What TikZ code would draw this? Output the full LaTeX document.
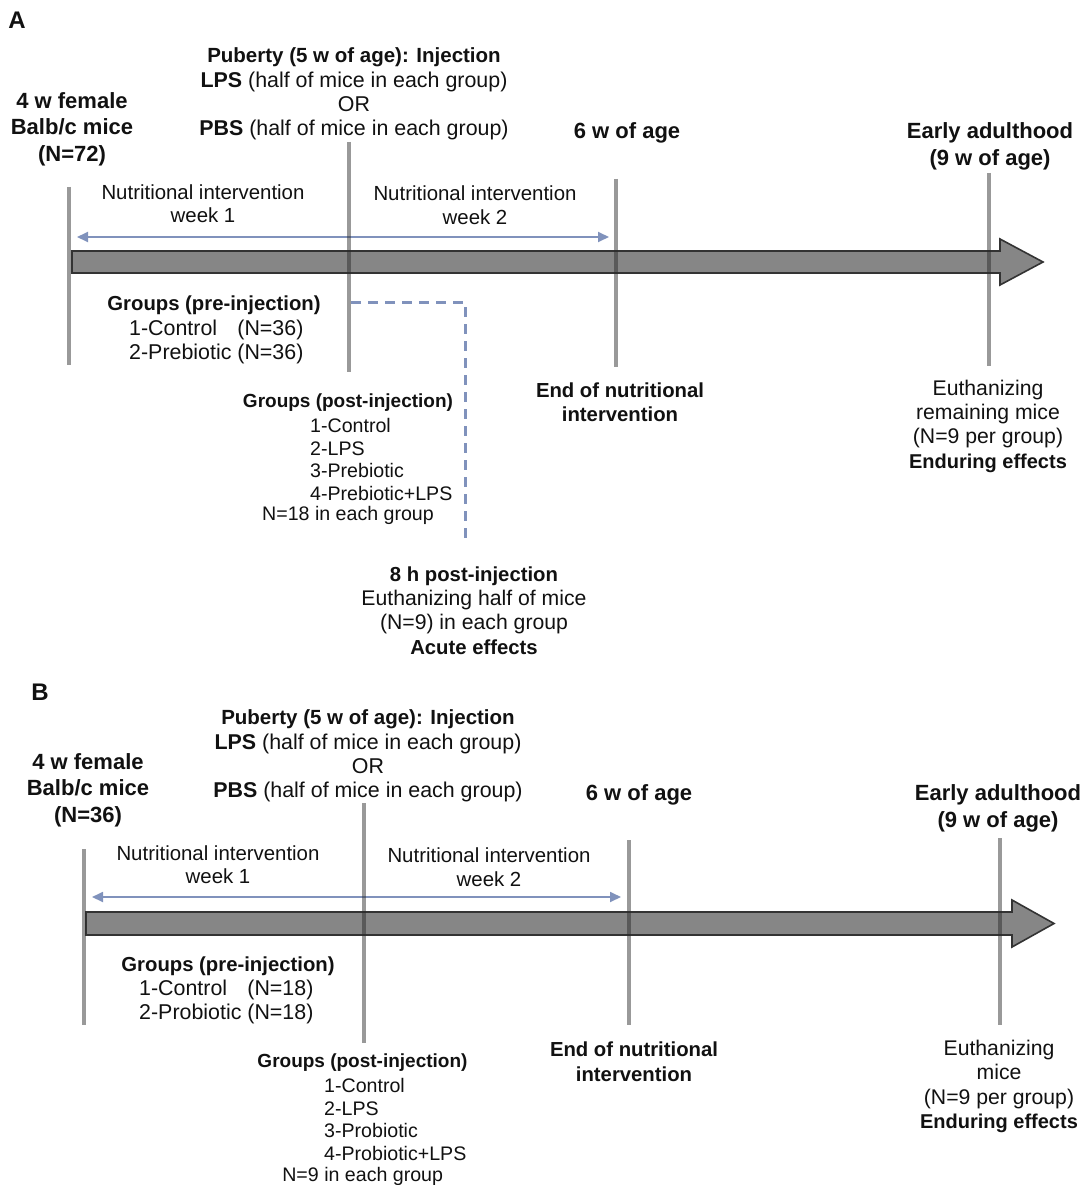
\documentclass[tikz,border=0pt]{standalone}
\usepackage{fontspec}
\setmainfont{Liberation Sans}
\usetikzlibrary{arrows.meta}
\definecolor{barfill}{RGB}{134,134,134}
\definecolor{baredge}{RGB}{51,51,51}
\definecolor{tickcol}{RGB}{42,42,42}
\definecolor{blu}{RGB}{128,146,188}
\definecolor{ink}{RGB}{17,17,17}
\newcommand\fsz[2]{\fontsize{#1}{#2}\selectfont}
\tikzset{
  lbl/.style={inner sep=0pt, align=center, text=ink, yshift=-2.5pt},
  bighdr/.style={lbl, font=\bfseries\fsz{22}{26.5}},
  boldtxt/.style={lbl, font=\bfseries\fsz{20.3}{24.5}},
  regtxt/.style={lbl, font=\fsz{21.2}{24.3}},
  nuttxt/.style={lbl, font=\fsz{20.4}{23.5}},
  posttitle/.style={lbl, font=\bfseries\fsz{19}{23}},
  posttxt/.style={lbl, font=\fsz{19.6}{22.6}},
  panellbl/.style={lbl, font=\bfseries\fsz{24}{28}},
  tickline/.style={draw=tickcol, draw opacity=0.48, line width=4pt},
  bar/.style={fill=barfill, draw=baredge, line width=1.6pt, line join=miter},
  span/.style={draw=blu, line width=1.8pt, {Triangle[length=11pt,width=10pt]}-{Triangle[length=11pt,width=10pt]}},
  dashline/.style={draw=blu, line width=3pt, dash pattern=on 10pt off 7pt},
}
\begin{document}
\begin{tikzpicture}[x=1pt,y=-1pt]
\useasboundingbox (0,0) rectangle (1082,1185);
\fill[white] (0,0) rectangle (1082,1185);

% ================= Panel A =================
\node[panellbl] (labA) at (17,18) {A};
% timeline bar
\draw[bar] (72,251) -- (1000,251) -- (1000,239) -- (1043,262) -- (1000,285) -- (1000,273) -- (72,273) -- cycle;
% span arrow
\coordinate (spA0) at (77,237);
\coordinate (spA1) at (609,237);
\draw[span] (spA0) -- (spA1);
% dashed connector
\coordinate (dA0) at (351,302);
\coordinate (dA1) at (465,302);
\coordinate (dA2) at (465,540);
\draw[dashline] (dA0) -- (dA1) -- (dA2);
% ticks
\coordinate (tA1t) at (69,187);  \coordinate (tA1b) at (69,365);
\coordinate (tA2t) at (349,142); \coordinate (tA2b) at (349,372);
\coordinate (tA3t) at (616,179); \coordinate (tA3b) at (616,367);
\coordinate (tA4t) at (989,173); \coordinate (tA4b) at (989,366);
\draw[tickline] (tA1t) -- (tA1b);
\draw[tickline] (tA2t) -- (tA2b);
\draw[tickline] (tA3t) -- (tA3b);
\draw[tickline] (tA4t) -- (tA4b);
% texts
\node[bighdr] (startA) at (72,126.5) {4 w female\\Balb/c mice\\(N=72)};
\node[regtxt, font=\fsz{21.4}{24.3}] (pubA) at (354,91.5) {{\bfseries\fsz{20.5}{24.3}Puberty (5 w of age): Injection}\\\textbf{LPS} (half of mice in each group)\\OR\\\textbf{PBS} (half of mice in each group)};
\node[nuttxt] (w1A) at (203,201) {Nutritional intervention\\week 1};
\node[nuttxt] (w2A) at (475,202.5) {Nutritional intervention\\week 2};
\node[bighdr] (sixA) at (627,130) {6 w of age};
\node[bighdr, font=\bfseries\fsz{22}{27}] (nineA) at (990,143.5) {Early adulthood\\(9 w of age)};
\node[boldtxt] (preA) at (214,303) {Groups (pre-injection)};
\node[lbl, anchor=west, font=\fsz{21.4}{24}] (prelistA) at (129,340) {\begin{tabular}{@{}l@{ }l@{}}1-Control & (N=36)\\2-Prebiotic & (N=36)\end{tabular}};
\node[posttitle] (postA) at (348,400) {Groups (post-injection)};
\node[posttxt, align=left, anchor=west] (postlistA) at (310,456.8) {1-Control\\2-LPS\\3-Prebiotic\\4-Prebiotic+LPS};
\node[posttxt] (postnA) at (348,513) {N=18 in each group};
\node[boldtxt] (endA) at (620,399.5) {End of nutritional\\intervention};
\node[regtxt] (euthA) at (988,423.5) {Euthanizing\\remaining mice\\(N=9 per group)\\{\bfseries\fsz{20}{24.3}Enduring effects}};
\node[regtxt] (acuteA) at (474,608) {{\bfseries\fsz{20.3}{24.3}8 h post-injection}\\Euthanizing half of mice\\(N=9) in each group\\{\bfseries\fsz{20.3}{24.3}Acute effects}};

% ================= Panel B =================
\node[panellbl] (labB) at (40,690) {B};
\draw[bar] (86,912) -- (1012,912) -- (1012,900) -- (1054,923.5) -- (1012,947) -- (1012,935) -- (86,935) -- cycle;
\coordinate (spB0) at (92,897);
\coordinate (spB1) at (621,897);
\draw[span] (spB0) -- (spB1);
\coordinate (tB1t) at (84,849);   \coordinate (tB1b) at (84,1025);
\coordinate (tB2t) at (364,803);  \coordinate (tB2b) at (364,1043);
\coordinate (tB3t) at (629,840);  \coordinate (tB3b) at (629,1025);
\coordinate (tB4t) at (1000,838); \coordinate (tB4b) at (1000,1025);
\draw[tickline] (tB1t) -- (tB1b);
\draw[tickline] (tB2t) -- (tB2b);
\draw[tickline] (tB3t) -- (tB3b);
\draw[tickline] (tB4t) -- (tB4b);
\node[bighdr] (startB) at (88,787.5) {4 w female\\Balb/c mice\\(N=36)};
\node[regtxt, font=\fsz{21.4}{24.3}] (pubB) at (368,753.5) {{\bfseries\fsz{20.5}{24.3}Puberty (5 w of age): Injection}\\\textbf{LPS} (half of mice in each group)\\OR\\\textbf{PBS} (half of mice in each group)};
\node[nuttxt] (w1B) at (218,862) {Nutritional intervention\\week 1};
\node[nuttxt] (w2B) at (489,864.5) {Nutritional intervention\\week 2};
\node[bighdr] (sixB) at (639,792) {6 w of age};
\node[bighdr, font=\bfseries\fsz{22}{27}] (nineB) at (998,805.5) {Early adulthood\\(9 w of age)};
\node[boldtxt] (preB) at (228,964) {Groups (pre-injection)};
\node[lbl, anchor=west, font=\fsz{21.4}{24}] (prelistB) at (139,1000) {\begin{tabular}{@{}l@{ }l@{}}1-Control & (N=18)\\2-Probiotic & (N=18)\end{tabular}};
\node[posttitle] (postB) at (362.5,1060) {Groups (post-injection)};
\node[posttxt, align=left, anchor=west] (postlistB) at (324,1117) {1-Control\\2-LPS\\3-Probiotic\\4-Probiotic+LPS};
\node[posttxt] (postnB) at (362.7,1174) {N=9 in each group};
\node[boldtxt] (endB) at (634,1059) {End of nutritional\\intervention};
\node[regtxt] (euthB) at (999,1084) {Euthanizing\\mice\\(N=9 per group)\\{\bfseries\fsz{20}{24.3}Enduring effects}};
\end{tikzpicture}
\end{document}
